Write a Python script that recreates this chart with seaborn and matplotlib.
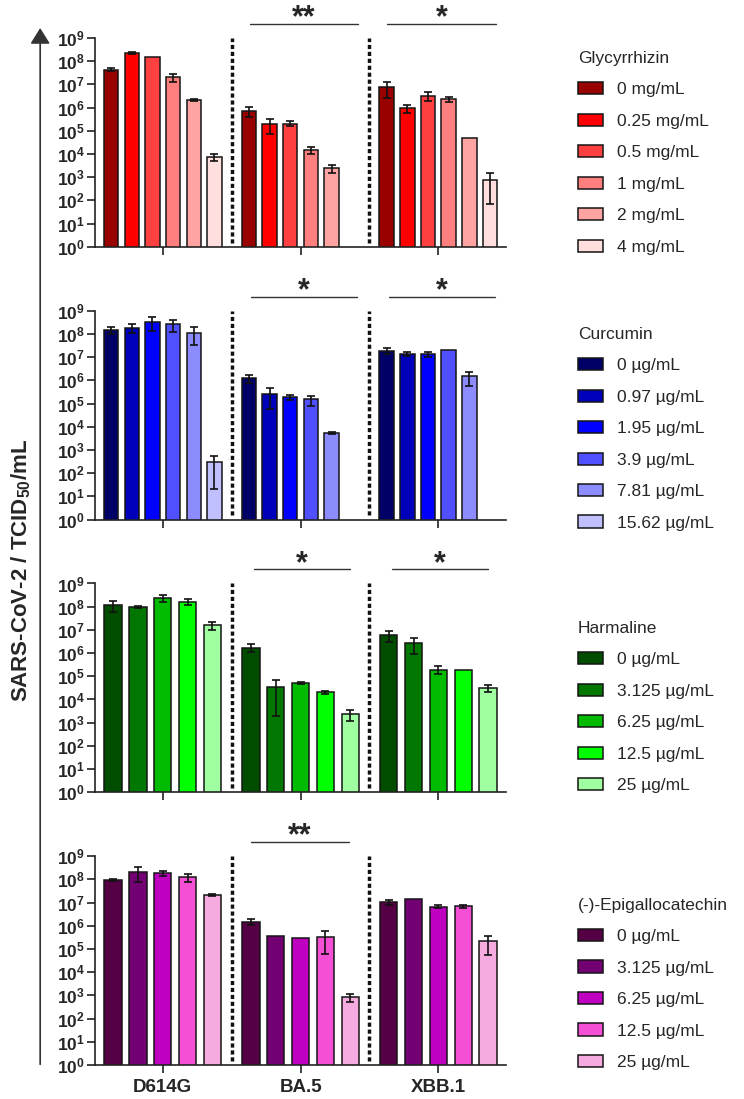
import numpy as np
import pandas as pd
import matplotlib
matplotlib.use("Agg")
import matplotlib.pyplot as plt
from matplotlib.patches import FancyArrowPatch
from matplotlib.ticker import FuncFormatter, NullLocator
import seaborn as sns

variants = ["D614G", "BA.5", "XBB.1"]

# Glycyrrhizin (rows = variants, cols = concentrations), nan = below detection
glyc_conc = ["0 mg/mL", "0.25 mg/mL", "0.5 mg/mL", "1 mg/mL", "2 mg/mL", "4 mg/mL"]
glyc_mean = [
    [4.3e7, 2.3e8, 1.5e8, 2.0e7, 2.2e6, 7.8e3],
    [7.3e5, 2.0e5, 2.05e5, 1.5e4, 2.4e3, np.nan],
    [7.5e6, 9.6e5, 3.2e6, 2.3e6, 4.9e4, 7.7e2],
]
glyc_sd = [
    [0.6e7, 0.25e8, 0, 0.7e7, 0.2e6, 2.6e3],
    [3.5e5, 1.3e5, 0.5e5, 0.5e4, 0.9e3, np.nan],
    [5.0e6, 3.5e5, 1.3e6, 0.6e6, 0, 7.0e2],
]
glyc_colors = ["#990000", "#ff0000", "#ff4040", "#ff7f7f", "#ffa3a3", "#ffdede"]
glyc_sig = [("BA.5", "**"), ("XBB.1", "*")]

# Curcumin
curc_conc = ["0 µg/mL", "0.97 µg/mL", "1.95 µg/mL", "3.9 µg/mL", "7.81 µg/mL", "15.62 µg/mL"]
curc_mean = [
    [1.46e8, 1.85e8, 3.35e8, 2.57e8, 1.15e8, 2.9e2],
    [1.26e6, 2.6e5, 1.95e5, 1.5e5, 5.35e3, np.nan],
    [1.92e7, 1.37e7, 1.37e7, 2.0e7, 1.47e6, np.nan],
]
curc_sd = [
    [5e7, 8e7, 2e8, 1.4e8, 8e7, 2.7e2],
    [4.8e5, 2e5, 5e4, 7e4, 6e2, np.nan],
    [6e6, 2.5e6, 3.5e6, 0, 9e5, np.nan],
]
curc_colors = ["#000066", "#0000bb", "#0000ff", "#5050ff", "#8c8cff", "#c0c0ff"]
curc_sig = [("BA.5", "*"), ("XBB.1", "*")]

# Harmaline
harm_conc = ["0 µg/mL", "3.125 µg/mL", "6.25 µg/mL", "12.5 µg/mL", "25 µg/mL"]
harm_mean = [
    [1.17e8, 1.0e8, 2.44e8, 1.63e8, 1.59e7],
    [1.74e6, 3.5e4, 5.35e4, 2.1e4, 2.3e3],
    [5.9e6, 2.76e6, 1.95e5, 1.8e5, 3.2e4],
]
harm_sd = [
    [5.5e7, 1.2e7, 8.5e7, 5e7, 6e6],
    [6.5e5, 3.3e4, 5e3, 3e3, 1.1e3],
    [2.9e6, 1.8e6, 7.5e4, 0, 1.1e4],
]
harm_colors = ["#004d00", "#007700", "#00bb00", "#00ff00", "#a0ffa0"]
harm_sig = [("BA.5", "*"), ("XBB.1", "*")]

# (-)-Epigallocatechin
egc_conc = ["0 µg/mL", "3.125 µg/mL", "6.25 µg/mL", "12.5 µg/mL", "25 µg/mL"]
egc_mean = [
    [9.3e7, 2.05e8, 1.8e8, 1.26e8, 2.09e7],
    [1.5e6, 3.8e5, 3.0e5, 3.2e5, 8.4e2],
    [1.07e7, 1.5e7, 6.8e6, 6.9e6, 2.13e5],
]
egc_sd = [
    [1e7, 1.3e8, 4e7, 5e7, 2e6],
    [4.5e5, 0, 0, 2.6e5, 3.3e2],
    [2.5e6, 0, 1e6, 8e5, 1.6e5],
]
egc_colors = ["#550045", "#730073", "#c000c0", "#f550d5", "#f5aae0"]
egc_sig = [("BA.5", "**")]

sns.set_theme(style="ticks")
plt.rcParams["font.family"] = ["Liberation Sans", "DejaVu Sans"]
plt.rcParams["mathtext.fontset"] = "custom"
plt.rcParams["mathtext.rm"] = "Liberation Sans"
plt.rcParams["mathtext.it"] = "Liberation Sans:italic"
plt.rcParams["mathtext.bf"] = "Liberation Sans:bold"

# drug, conc, mean, sd, colours, significance, legend y, bracket span
panels = [
    ("Glycyrrhizin", glyc_conc, glyc_mean, glyc_sd, glyc_colors, glyc_sig, -0.038, (-0.37, 0.42)),
    ("Curcumin", curc_conc, curc_mean, curc_sd, curc_colors, curc_sig, -0.053, (-0.36, 0.41)),
    ("Harmaline", harm_conc, harm_mean, harm_sd, harm_colors, harm_sig, -0.005, (-0.34, 0.36)),
    ("(-)-Epigallocatechin", egc_conc, egc_mean, egc_sd, egc_colors, egc_sig, -0.024, (-0.36, 0.35)),
]

fig, axes = plt.subplots(4, 1, figsize=(7.44, 10.99), dpi=100)
fig.subplots_adjust(left=0.128, right=0.680, top=0.9654, bottom=0.0309, hspace=0.306)

for i, (ax, (drug, conc, mean, sd, colors, sig, leg_y, span)) in enumerate(zip(axes, panels)):
    df = pd.DataFrame({
        "variant": np.repeat(variants, len(conc)),
        "conc": np.tile(conc, len(variants)),
        "titer": np.ravel(mean),
        "sd": np.ravel(sd),
    }).dropna()

    ax.set_yscale("log", nonpositive="clip")
    sns.barplot(data=df, x="variant", y="titer", hue="conc", order=variants, hue_order=conc,
                palette=colors, saturation=1, errorbar=None, width=0.9, gap=0.3,
                edgecolor="#151515", linewidth=1.1, ax=ax)
    ax.set_yscale("log", nonpositive="clip")

    # error bars (SD) on top of each bar
    sd_lookup = {(r.variant, r.conc): r.sd for r in df.itertuples()}
    for level, cont in zip(conc, ax.containers):
        for bar in cont:
            xc = bar.get_x() + bar.get_width() / 2
            top = bar.get_y() + bar.get_height()
            err = sd_lookup.get((variants[int(round(xc))], level), 0)
            if err > 0:
                ax.errorbar(xc, top, yerr=err, fmt="none", ecolor="#111111",
                            elinewidth=1.2, capsize=3.2, capthick=1.2, zorder=5)

    # dotted separators between variants
    for xs in (0.5, 1.5):
        ax.axvline(xs, ymin=0.02, ymax=1.0, color="#111111", lw=2.5, ls=(0, (1.2, 0.8)))

    # significance brackets
    trans = ax.get_xaxis_transform()
    for v, stars in sig:
        k = variants.index(v)
        x0, x1 = k + span[0], k + span[1]
        ax.plot([x0, x1], [1.067, 1.067], transform=trans, color="#333333", lw=1.0, clip_on=False)
        ax.text((x0 + x1) / 2, 1.055, stars, transform=trans, ha="center", va="baseline",
                fontsize=22, fontweight="bold", clip_on=False)

    ax.set_ylim(1, 1e9)
    ax.set_xlim(-0.49, 2.49)
    ax.set_yticks([10.0 ** k for k in range(10)])
    ax.yaxis.set_major_formatter(FuncFormatter(lambda y, _: r"$\mathbf{10^{%d}}$" % round(np.log10(y))))
    ax.yaxis.set_minor_locator(NullLocator())
    ax.set_xlabel("")
    ax.set_ylabel("")
    ax.tick_params(axis="both", length=6, width=1.2, color="#222222", labelsize=12.5)
    ax.tick_params(axis="y", pad=1.5)
    ax.tick_params(axis="x", pad=4)
    if i < 3:
        ax.tick_params(axis="x", labelbottom=False)
    else:
        ax.set_xticks(range(len(variants)))
        ax.set_xticklabels(variants, fontsize=13.5, fontweight="bold")
    sns.despine(ax=ax)
    for s in ("left", "bottom"):
        ax.spines[s].set_linewidth(1.2)
        ax.spines[s].set_color("#222222")

    sns.move_legend(ax, "lower left", bbox_to_anchor=(1.175, leg_y), title=drug, frameon=False,
                    fontsize=12.5, title_fontsize=12.5, handlelength=1.45, handleheight=0.7,
                    handletextpad=0.8, labelspacing=0.94, borderpad=0, borderaxespad=0,
                    alignment="left")

# shared y arrow and label
fig.add_artist(FancyArrowPatch((0.054, 0.029), (0.054, 0.977), transform=fig.transFigure,
                               arrowstyle="-|>,head_length=0.4,head_width=0.25",
                               mutation_scale=24, lw=1.2, color="#333333"))
fig.text(0.028, 0.481, r"SARS-CoV-2 / TCID$_{\mathbf{50}}$/mL", rotation=90,
         ha="center", va="center", fontsize=16, fontweight="bold")

fig.savefig("out.png", dpi=100)
